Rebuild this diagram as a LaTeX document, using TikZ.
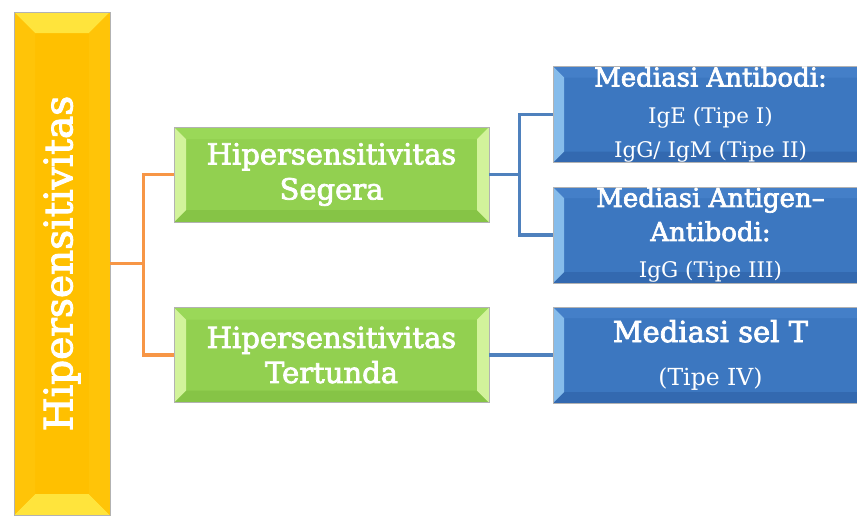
\documentclass[tikz,border=0pt]{standalone}
\usepackage{fontspec}
\setmainfont{DejaVu Serif}
\newfontfamily\heavyfont{DejaVu Serif}[FakeBold=2.6]
\usetikzlibrary{calc}

\definecolor{yelfill}{HTML}{FFC000}
\definecolor{yellight}{HTML}{FFE43C}
\definecolor{yelside}{HTML}{FFC408}
\definecolor{grnfill}{HTML}{92D050}
\definecolor{grnlight}{HTML}{D2F39B}
\definecolor{grntop}{HTML}{9AD858}
\definecolor{grndark}{HTML}{86C446}
\definecolor{blufill}{HTML}{3C77C0}
\definecolor{blulight}{HTML}{86BCEB}
\definecolor{blutop}{HTML}{447FC8}
\definecolor{bludark}{HTML}{3369B0}
\definecolor{linkorange}{HTML}{F79646}
\definecolor{linkblue}{HTML}{4F81BD}

\newcommand\bighead{\heavyfont\fontsize{26}{33}\selectfont}
\newcommand\selhead{\heavyfont\fontsize{29}{34}\selectfont}

\begin{document}
\begin{tikzpicture}[x=1pt, y=-1pt,
    bevel width/.store in=\bvw, bevel width=10pt,
    bevel/.style n args={4}{
        path picture={
            \fill[#1] (path picture bounding box.north west) -- (path picture bounding box.north east)
                -- ([shift={(-\bvw,-\bvw)}]path picture bounding box.north east)
                -- ([shift={(\bvw,-\bvw)}]path picture bounding box.north west) -- cycle;
            \fill[#4] (path picture bounding box.south west) -- (path picture bounding box.south east)
                -- ([shift={(-\bvw,\bvw)}]path picture bounding box.south east)
                -- ([shift={(\bvw,\bvw)}]path picture bounding box.south west) -- cycle;
            \fill[#2] (path picture bounding box.north west) -- ([shift={(\bvw,-\bvw)}]path picture bounding box.north west)
                -- ([shift={(\bvw,\bvw)}]path picture bounding box.south west) -- (path picture bounding box.south west) -- cycle;
            \fill[#3] (path picture bounding box.north east) -- ([shift={(-\bvw,-\bvw)}]path picture bounding box.north east)
                -- ([shift={(-\bvw,\bvw)}]path picture bounding box.south east) -- (path picture bounding box.south east) -- cycle;
        }
    },
    box/.style={inner sep=0pt, align=center, text=white, draw=black!30, line width=0.6pt},
    mainbox/.style={box, fill=yelfill, bevel={yellight}{yelside}{yelside}{yellight}, bevel width=21pt,
        minimum width=96pt, minimum height=503pt},
    typebox/.style={box, fill=grnfill, bevel={grntop}{grnlight}{grnlight}{grndark}, bevel width=12pt,
        minimum width=315pt, minimum height=95pt, font=\heavyfont\fontsize{29}{35}\selectfont},
    medbox/.style={box, fill=blufill, bevel={blutop}{blulight}{blutop}{bludark}, bevel width=11pt,
        minimum width=315pt, minimum height=96pt, font=\fontsize{21.5}{34}\selectfont},
    orangelink/.style={linkorange, line width=3.5pt},
    bluelink/.style={linkblue, line width=3.5pt}
]

    \useasboundingbox (0,0) rectangle (857,515);
    \clip (0,0) rectangle (857,515);

    % root
    \node[mainbox] (hyp) at (62,263.5) {\rotatebox{90}{\heavyfont\fontsize{39}{44}\selectfont Hipersensitivitas}};

    % two kinds
    \node[typebox] (seg) at (331.5,174.5) {Hipersensitivitas\\Segera};
    \node[typebox] (ter) at (331.5,355) {Hipersensitivitas\\Tertunda};

    % mediators
    \node[medbox] (ab) at (710.5,114.5) {{\bighead Mediasi Antibodi:}\\[3pt]IgE (Tipe I)\\IgG/ IgM (Tipe II)};
    \node[medbox] (agab) at (710.5,235) {{\bighead Mediasi Antigen–}\\{\bighead Antibodi:}\\[3pt]IgG (Tipe III)};
    \node[medbox, font=\fontsize{23.5}{34}\selectfont] (selt) at (710.5,355) {{\selhead Mediasi sel T}\\[9pt](Tipe IV)};

    % connectors
    \coordinate (jO) at ([xshift=33pt]hyp.east);
    \coordinate (jB) at ([xshift=30pt]seg.east);

    \draw[orangelink] (hyp.east) -- (jO);
    \draw[orangelink] (seg.west) -| (jO) |- (ter.west);

    \draw[bluelink] (seg.east) -- (jB);
    \draw[bluelink] (ab.west) -| (jB) |- (agab.west);
    \draw[bluelink] (ter.east) -- (selt.west);

\end{tikzpicture}
\end{document}
